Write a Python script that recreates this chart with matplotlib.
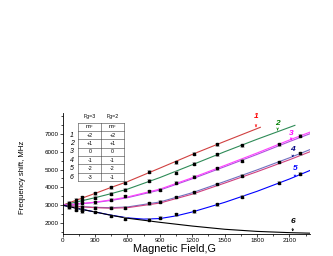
import numpy as np
import matplotlib.pyplot as plt
from matplotlib.ticker import MultipleLocator

plt.rcParams['font.family'] = ['Liberation Sans', 'DejaVu Sans']
plt.rcParams['mathtext.fontset'] = 'custom'
plt.rcParams['mathtext.rm'] = 'Liberation Sans'

# calculated curves (field in G, shift in MHz)
x1 = [0, 150, 300, 450, 600, 900, 1200, 1500, 1830]
y1 = [3000, 3330, 3660, 4000, 4320, 5080, 5850, 6580, 7370]
x2 = [0, 150, 300, 450, 600, 900, 1200, 1500, 1800, 2150]
y2 = [3000, 3210, 3420, 3650, 3900, 4550, 5270, 6000, 6700, 7480]
xl = [0, 150, 300, 450, 600, 900, 1200, 1500, 1800, 2100, 2290]
y3 = [3000, 3080, 3170, 3300, 3460, 3900, 4540, 5230, 5930, 6660, 7100]
y3b = [3000, 3070, 3150, 3270, 3420, 3850, 4480, 5160, 5850, 6570, 7010]
y4 = [3000, 2930, 2880, 2860, 2900, 3180, 3700, 4330, 4980, 5660, 6120]
y4b = [3000, 2920, 2860, 2830, 2860, 3120, 3620, 4240, 4880, 5550, 6000]
x5 = [0, 150, 300, 450, 600, 750, 900, 1050, 1200, 1500, 1800, 2100, 2290]
y5 = [3000, 2800, 2620, 2440, 2290, 2220, 2250, 2400, 2620, 3160, 3780, 4470, 4950]
y6 = [3000, 2800, 2620, 2430, 2270, 2040, 1830, 1650, 1530, 1460, 1430]

# measured points
p1x = [60, 125, 180, 300, 450, 580, 800, 1050, 1220, 1430]
p1y = [3130, 3300, 3450, 3660, 4000, 4270, 4880, 5400, 5880, 6420]
p2x = [60, 125, 180, 300, 450, 580, 800, 1050, 1220, 1430, 1660]
p2y = [3080, 3180, 3280, 3410, 3640, 3880, 4380, 4830, 5330, 5850, 6360]
p3x = [60, 125, 180, 300, 450, 580, 800, 900, 1050, 1220, 1430, 1660, 2000, 2200]
p3y = [3020, 3060, 3100, 3160, 3310, 3520, 3770, 3880, 4250, 4600, 5070, 5500, 6420, 6900]
p4x = [60, 125, 180, 300, 450, 580, 800, 900, 1050, 1220, 1430, 1660, 2000, 2200]
p4y = [2960, 2920, 2890, 2870, 2860, 2870, 3100, 3190, 3460, 3730, 4190, 4650, 5420, 5920]
p5x = [60, 125, 180, 300, 450, 580, 800, 900, 1050, 1220, 1430, 1660, 2000, 2200]
p5y = [2930, 2830, 2750, 2620, 2390, 2230, 2190, 2300, 2480, 2650, 3040, 3480, 4270, 4770]
p6x = [60, 125, 180]
p6y = [2880, 2740, 2660]
err = 80

labels = ['1', '2', '3', '4', '5', '6']
label_colors = ['#ff0000', '#008000', '#ff00ff', '#000080', '#0000ff', '#000000']
label_x = [1790, 1990, 2115, 2130, 2150, 2130]
label_y = [7950, 7580, 7040, 6130, 5040, 2060]
tip_y = [7390, 7200, 6650, 5680, 4560, 1520]

fg3 = ['+2', '+1', '0', '-1', '-2', '-3']
fg2 = ['+2', '+1', '0', '-1', '-2', '-1']

fig = plt.figure(figsize=(3.33, 2.56), dpi=100)
ax = fig.add_axes([0.188, 0.086, 0.743, 0.471])

ax.plot(x1, y1, color='#d04040', lw=0.8)
ax.plot(x2, y2, color='#2e8b57', lw=0.8)
ax.plot(xl, y3b, color='#b050e0', lw=0.8)
ax.plot(xl, y3, color='#ff40ff', lw=0.8)
ax.plot(xl, y4, color='#7070c0', lw=0.8)
ax.plot(xl, y4b, color='#d04080', lw=0.8)
ax.plot(x5, y5, color='#0000ff', lw=0.8)
ax.plot(xl, y6, color='#000000', lw=0.8)

for px, py in [(p1x, p1y), (p2x, p2y), (p3x, p3y), (p4x, p4y), (p5x, p5y), (p6x, p6y)]:
    ax.errorbar(px, py, yerr=err, fmt='s', ms=1.8, color='black',
                ecolor='#909090', elinewidth=0.5, capsize=1.3, capthick=0.5)

for t, c, lx, ly, ty in zip(labels, label_colors, label_x, label_y, tip_y):
    ax.annotate(t, xy=(lx, ty), xytext=(lx, ly), color=c, fontsize=6,
                fontweight='bold', fontstyle='italic', ha='center', va='center',
                arrowprops=dict(arrowstyle='->', color=c, lw=0.5,
                                shrinkA=2.5, shrinkB=0, mutation_scale=3))

# mF table in the upper left corner
tx0, tx1, tx2 = 146, 359, 565
ttop, row_h = 7635, 470
tk = dict(color='#404040', lw=0.4)
for i in range(8):
    yy = ttop - i * row_h
    ax.plot([tx0, tx2], [yy, yy], **tk)
for xx in (tx0, tx1, tx2):
    ax.plot([xx, xx], [ttop, ttop - 7 * row_h], **tk)
ax.text((tx0 + tx1) / 2, ttop + 330, 'Fg=3', fontsize=3.8, ha='center', va='center')
ax.text((tx1 + tx2) / 2, ttop + 330, 'Fg=2', fontsize=3.8, ha='center', va='center')
yc = ttop - row_h / 2
ax.text((tx0 + tx1) / 2, yc, r'm$_\mathrm{F}$', fontsize=4.2, ha='center', va='center')
ax.text((tx1 + tx2) / 2, yc, r'm$_\mathrm{F}$', fontsize=4.2, ha='center', va='center')
for i in range(6):
    yc = ttop - (i + 1.5) * row_h
    ax.text(85, yc, labels[i], fontsize=5, fontstyle='italic', ha='center', va='center')
    ax.text((tx0 + tx1) / 2, yc, fg3[i], fontsize=3.8, ha='center', va='center')
    ax.text((tx1 + tx2) / 2, yc, fg2[i], fontsize=3.8, ha='center', va='center')

ax.set_xlim(0, 2290)
ax.set_ylim(1385, 8150)
ax.set_xticks([0, 300, 600, 900, 1200, 1500, 1800, 2100])
ax.set_yticks([2000, 3000, 4000, 5000, 6000, 7000])
ax.xaxis.set_minor_locator(MultipleLocator(150))
ax.yaxis.set_minor_locator(MultipleLocator(500))
ax.tick_params(which='both', direction='out', width=0.5, labelsize=4.5, pad=1)
ax.tick_params(which='major', length=2)
ax.tick_params(which='minor', length=1.2)
for s in ('top', 'right'):
    ax.spines[s].set_visible(False)
for s in ('left', 'bottom'):
    ax.spines[s].set_linewidth(0.6)

ax.set_xlabel('Magnetic Field,G', fontsize=7.8)
ax.xaxis.set_label_coords(0.454, -0.085)
ax.set_ylabel('Frequency shift, MHz', fontsize=5.6)
ax.yaxis.set_label_coords(-0.147, 0.467)

fig.savefig('out.png', dpi=100)
